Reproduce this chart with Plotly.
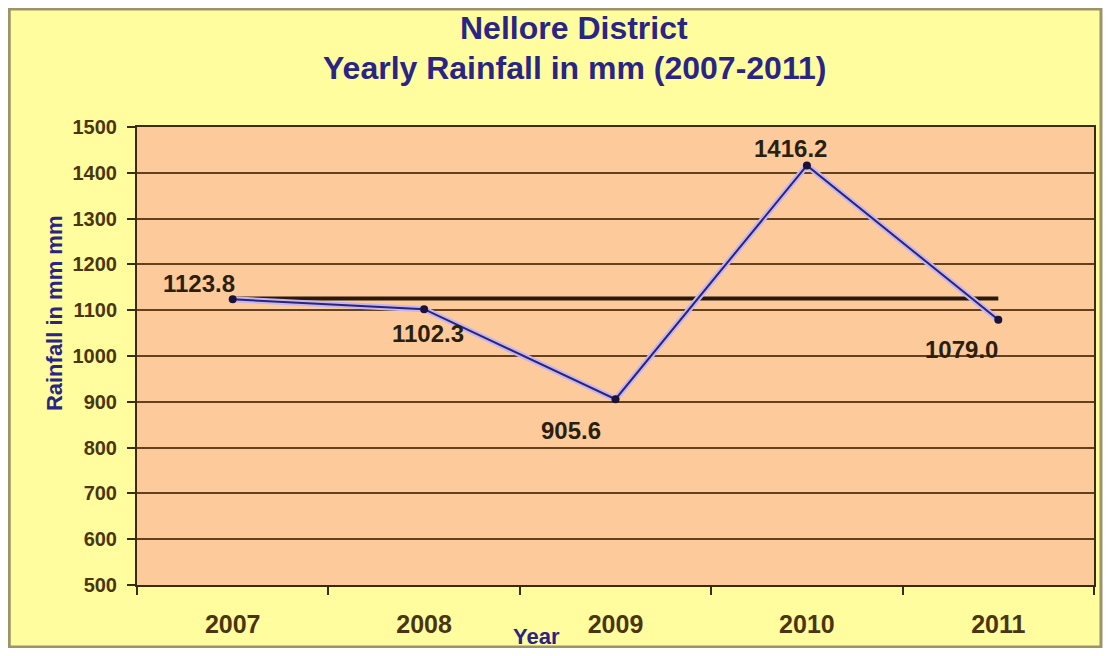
#######################################################
## .0.              Load Libraries               !!! ##
#######################################################
import plotly.graph_objects as go

#######################################################
## .1.                   Data                    !!! ##
#######################################################
years = ["2007", "2008", "2009", "2010", "2011"]
rainfall = [1123.8, 1102.3, 905.6, 1416.2, 1079.0]
normal_rainfall = [1125.4, 1125.4, 1125.4, 1125.4, 1125.4]
y_ticks = [500, 600, 700, 800, 900, 1000, 1100, 1200, 1300, 1400, 1500]

# label offsets (px) relative to each point
label_shifts = [(-34, 16), (4, -24), (-45, -31), (-16, 17), (-37, -30)]


#######################################################
## .2.                 Plotly                    !!! ##
#######################################################
# ~~~~~~~~~~~~~~~~~~~~~~~~~~~~~~~~~~~~~~~~~~~~~~~~~~~~~~
def plot_rainfall() -> go.Figure:
    """
    Yearly rainfall line chart with normal line
    """
    navy: str = "#2A2585"
    brown: str = "#4A3510"
    font_family: str = "Liberation Sans, Arial, sans-serif"

    fig = go.Figure()

    # Normal (average) line
    fig.add_trace(
        go.Scatter(
            x=years,
            y=normal_rainfall,
            mode="lines",
            line=dict(width=4, color="#2B1A0C"),
            hoverinfo="skip",
        )
    )

    # Lavender halo under the rainfall line
    fig.add_trace(
        go.Scatter(
            x=years,
            y=rainfall,
            mode="lines",
            line=dict(width=6, color="#C4B4F2"),
            hoverinfo="skip",
        )
    )

    # Rainfall line
    fig.add_trace(
        go.Scatter(
            x=years,
            y=rainfall,
            mode="lines+markers",
            line=dict(width=2, color="#2B2472"),
            marker=dict(size=8, color="#1A1238"),
            hovertemplate="%{x}: %{y:.1f} mm<extra></extra>",
        )
    )

    # Data labels (category index as x, year strings would read as numbers)
    for i, (val, (dx, dy)) in enumerate(zip(rainfall, label_shifts)):
        fig.add_annotation(
            x=i,
            y=val,
            text=f"{val:.1f}",
            showarrow=False,
            xshift=dx,
            yshift=dy,
            font=dict(family=font_family, size=24, color="#2A2010", weight="bold"),
        )

    # Title (two lines)
    for txt, ypos in [("Nellore District", 1.217), ("Yearly Rainfall in mm (2007-2011)", 1.129)]:
        fig.add_annotation(
            xref="paper",
            yref="paper",
            x=0.4567,
            y=ypos,
            text=txt,
            showarrow=False,
            xanchor="center",
            yanchor="middle",
            font=dict(family=font_family, size=32, color=navy, weight="bold"),
        )

    # Axis titles
    fig.add_annotation(
        xref="paper",
        yref="paper",
        x=-0.0855,
        y=0.594,
        text="Rainfall in mm mm",
        textangle=-90,
        showarrow=False,
        xanchor="center",
        yanchor="middle",
        font=dict(family=font_family, size=22, color=navy, weight="bold"),
    )
    fig.add_annotation(
        xref="paper",
        yref="paper",
        x=0.417,
        y=-0.1135,
        text="Year",
        showarrow=False,
        xanchor="center",
        yanchor="middle",
        font=dict(family=font_family, size=22, color=navy, weight="bold"),
    )

    # Outer frame
    fig.add_shape(
        type="rect",
        xref="paper",
        yref="paper",
        x0=-0.1335,
        x1=1.0073,
        y0=-0.1354,
        y1=1.2576,
        line=dict(color="#9C9468", width=3),
        fillcolor="#FFFD9E",
        layer="below",
    )
    # Plot area fill (drawn over the frame fill, under the grid)
    fig.add_shape(
        type="rect",
        xref="paper",
        yref="paper",
        x0=0,
        x1=1,
        y0=0,
        y1=1,
        line=dict(width=0),
        fillcolor="#FDCB9B",
        layer="below",
    )

    fig.update_layout(
        autosize=True,
        margin=dict(l=129, r=10, t=119, b=63),
        paper_bgcolor="white",
        plot_bgcolor="#FDCB9B",
        showlegend=False,
        font=dict(family=font_family, color=brown),
        xaxis=dict(
            type="category",
            tickson="boundaries",
            ticks="outside",
            ticklen=8,
            tickwidth=2,
            tickcolor="#3A2A10",
            ticklabelstandoff=16,
            tickfont=dict(size=25, color=brown, weight="bold"),
            showgrid=False,
            showline=True,
            linecolor="#3A2A10",
            linewidth=2,
            mirror=True,
            range=[-0.5, 4.5],
        ),
        yaxis=dict(
            range=[500, 1500],
            tickvals=y_ticks,
            ticks="outside",
            ticklen=8,
            tickwidth=2,
            tickcolor="#3A2A10",
            ticklabelstandoff=6,
            tickfont=dict(size=20, color=brown, weight="bold"),
            showgrid=True,
            gridcolor="#64401E",
            gridwidth=2,
            zeroline=False,
            showline=True,
            linecolor="#3A2A10",
            linewidth=2,
            mirror=True,
        ),
    )

    return fig


fig = plot_rainfall()
fig.write_html("out.html")
